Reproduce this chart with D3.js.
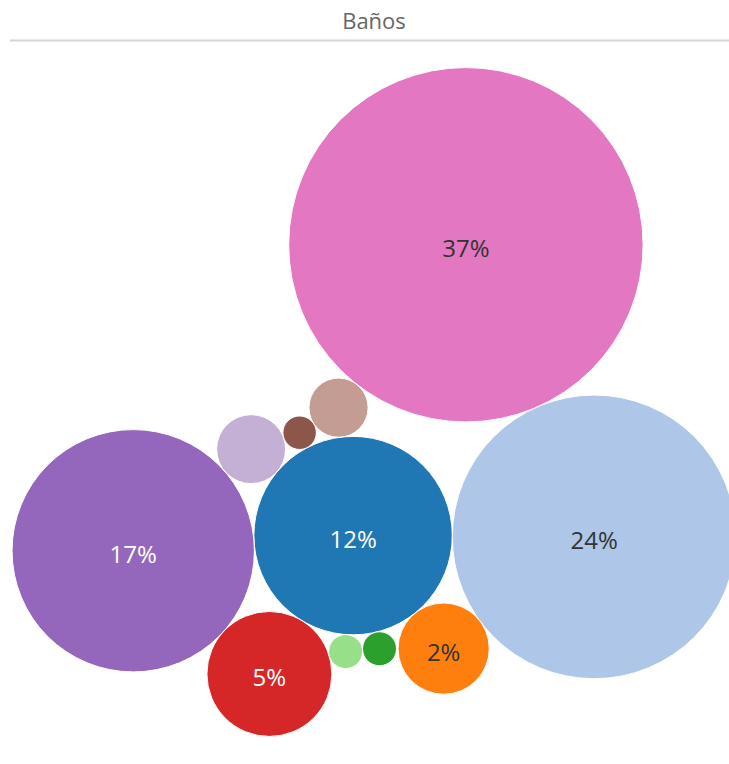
<!DOCTYPE html>
<html><head><meta charset="utf-8">
<script src="https://cdn.jsdelivr.net/npm/d3@7"></script>
<style>body{margin:0;background:#fff;overflow:hidden} svg{display:block}</style>
</head><body><svg id="chart" width="729" height="764"></svg>
<script>
// ---- data ----
const title = "Baños";
const categories = ["C01","C02","C03","C05","C06","C07","C09","C10","C11","C12","C13"];
const shares     = [11.6, 23.7, 2.45, 0.34, 0.34, 4.6, 17.3, 1.4, 0.33, 1.03, 37.0];
const palette    = ["#1f77b4","#aec7e8","#ff7f0e","#2ca02c","#98df8a","#d62728","#9467bd","#c5b0d5","#8c564b","#c49c94","#e377c2"];

// ---- packed-bubble layout rules (tangency relations) ----
const layoutRules = [
  {id:"C01"},
  {id:"C02", from:"C01", angle:0.3},
  {id:"C13", from:"C02", angle:-113.7},
  {id:"C12", between:["C13","C01"]},
  {id:"C11", between:["C12","C01"]},
  {id:"C10", between:["C11","C01"]},
  {id:"C09", between:["C10","C01"]},
  {id:"C07", between:["C09","C01"]},
  {id:"C06", between:["C07","C01"]},
  {id:"C05", between:["C06","C01"]},
  {id:"C03", between:["C01","C02"]}
];

const W = 729, H = 764;
const pane = {x0:10, width:728, y0:42, height:720};
const svg = d3.select("#chart");

const total = d3.sum(shares);
const color = d3.scaleOrdinal(categories, palette);
const rScale = d3.scaleSqrt().domain([0, d3.max(shares)]).range([0, 177.2]);
const pct = d3.format(".0%");

const nodes = new Map(categories.map((c,i)=>[c,{id:c, value:shares[i], r:rScale(shares[i])}]));

function tangentBetween(a, b, r){
  const dx=b.x-a.x, dy=b.y-a.y, d=Math.hypot(dx,dy);
  const da=a.r+r, db=b.r+r;
  const x=(da*da-db*db+d*d)/(2*d);
  const h=Math.sqrt(Math.max(0,da*da-x*x));
  const ux=dx/d, uy=dy/d;
  return {x:a.x+x*ux-h*uy, y:a.y+x*uy+h*ux};
}
layoutRules.forEach(rule=>{
  const n = nodes.get(rule.id);
  if (rule.from){
    const a = nodes.get(rule.from), t = rule.angle*Math.PI/180;
    n.x = a.x + (a.r+n.r)*Math.cos(t); n.y = a.y + (a.r+n.r)*Math.sin(t);
  } else if (rule.between){
    const p = tangentBetween(nodes.get(rule.between[0]), nodes.get(rule.between[1]), n.r);
    n.x = p.x; n.y = p.y;
  } else { n.x = 0; n.y = 0; }
});
const data = Array.from(nodes.values());
const minX = d3.min(data,d=>d.x-d.r), maxX = d3.max(data,d=>d.x+d.r);
const minY = d3.min(data,d=>d.y-d.r), maxY = d3.max(data,d=>d.y+d.r);
const offX = pane.x0 + pane.width/2 - (minX+maxX)/2;
const offY = pane.y0 + pane.height/2 - (minY+maxY)/2;

// ---- header ----
svg.append("text").attr("x", pane.x0 + pane.width/2).attr("y", 28.5)
  .attr("text-anchor","middle").attr("font-family","'Open Sans', sans-serif")
  .attr("font-size", 22).attr("fill","#666").text(title);
svg.append("line").attr("x1",10).attr("x2",W).attr("y1",40.5).attr("y2",40.5)
  .attr("stroke","#d6d6d6").attr("stroke-width",2);

// ---- bubbles ----
const g = svg.append("g").attr("transform",`translate(${offX},${offY})`);
function lum(c){
  const rgb = d3.rgb(c);
  const f = v=>{v/=255; return v<=0.03928? v/12.92 : Math.pow((v+0.055)/1.055,2.4);};
  return 0.2126*f(rgb.r)+0.7152*f(rgb.g)+0.0722*f(rgb.b);
}
const bub = g.selectAll("g.bubble").data(data).join("g").attr("class","bubble")
  .attr("transform",d=>`translate(${d.x},${d.y})`);
bub.append("circle").attr("r",d=>d.r).attr("fill",d=>color(d.id))
  .attr("stroke","#fff").attr("stroke-width",1);
bub.filter(d=>d.r>40).append("text")
  .attr("text-anchor","middle").attr("y",12)
  .attr("font-family","'Open Sans', sans-serif").attr("font-size",24)
  .attr("fill",d=>lum(color(d.id))>0.25?"#333":"#fff")
  .text(d=>pct(d.value/total));
</script></body></html>
